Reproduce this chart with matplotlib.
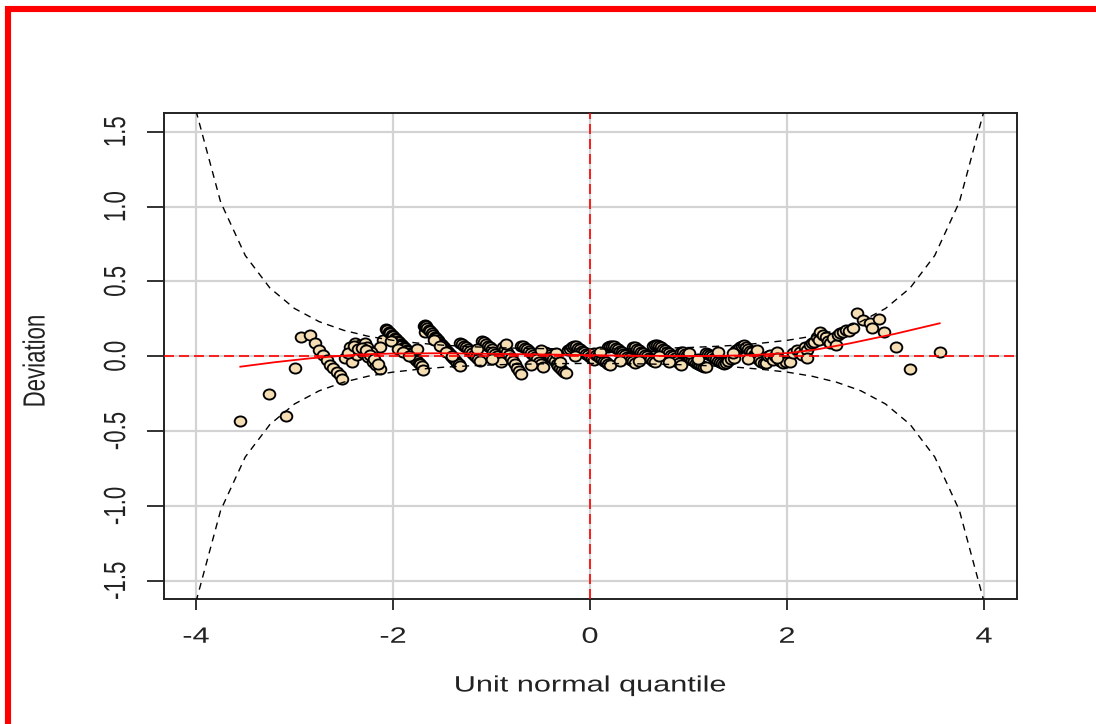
import numpy as np
import matplotlib
matplotlib.use("Agg")
import matplotlib.pyplot as plt
from matplotlib.patches import Rectangle
from matplotlib.patheffects import AbstractPathEffect
from matplotlib.transforms import Affine2D
from matplotlib.path import Path
from matplotlib.markers import MarkerStyle

# ---------------- data ----------------
band_z = [-4.0, -3.75, -3.5, -3.25, -3.0, -2.75, -2.5, -2.25, -2.0, -1.75, -1.5, -1.25, -1.0,
          -0.75, -0.5, -0.25, 0.0, 0.25, 0.5, 0.75, 1.0, 1.25, 1.5, 1.75, 2.0, 2.25, 2.5,
          2.75, 3.0, 3.25, 3.5, 3.75, 4.0]
band_hi = [1.64, 1.03, 0.673, 0.456, 0.319, 0.231, 0.173, 0.133, 0.106, 0.088, 0.074, 0.065, 0.058,
           0.054, 0.051, 0.049, 0.048, 0.049, 0.051, 0.054, 0.058, 0.065, 0.074, 0.088, 0.106, 0.133,
           0.173, 0.231, 0.319, 0.456, 0.673, 1.03, 1.64]
band_lo = [-v for v in band_hi]

fit_x = [-3.55, -3.2, -2.84, -2.34, -2.0, -1.5, -1.0, -0.5, 0.0, 0.5, 1.12, 1.6, 2.03, 2.3, 2.64, 3.1, 3.55]
fit_y = [-0.07, -0.04, -0.014, 0.012, 0.018, 0.02, 0.016, 0.012, 0.007, 0.003, 0.001, 0.006, 0.022, 0.045, 0.086, 0.15, 0.22]

pts_x = [
    # left tail
    -3.55, -3.26, -3.09, -2.99,
    -2.93, -2.84, -2.79, -2.75, -2.71, -2.67, -2.64, -2.61, -2.57, -2.54, -2.52,
    # cluster near -2.3
    -2.49, -2.44, -2.39, -2.34, -2.28, -2.42, -2.37, -2.30, -2.25, -2.20, -2.17, -2.13, -2.10, -2.13,
    -2.35, -2.32, -2.26, -2.22, -2.46, -2.40, -2.36, -2.31, -2.27, -2.23, -2.19, -2.15,
    # dark streak from -2.07
    -2.07, -2.06, -2.04, -2.03, -2.01, -2.00, -1.98, -1.97, -1.95, -1.94, -1.92, -1.91, -1.89, -1.88,
    -1.86, -1.85, -1.83, -1.82, -1.80, -1.79, -1.77, -1.76, -1.74, -1.73, -1.71, -1.70,
    -1.68, -1.76, -2.02, -1.95, -1.90, -1.84,
    # dark streak from -1.69
    -1.69, -1.68, -1.66, -1.65, -1.63, -1.62, -1.60, -1.59, -1.57, -1.56, -1.54, -1.53, -1.51, -1.50,
    -1.48, -1.47, -1.45, -1.44, -1.42, -1.41, -1.39, -1.38, -1.36, -1.35, -1.33, -1.32,
    -1.58, -1.52, -1.46, -1.40,
    # centre streaks
    -1.32, -1.30, -1.28, -1.26, -1.24, -1.22, -1.20, -1.18, -1.16, -1.14, -1.12,
    -1.10, -1.08, -1.06, -1.04, -1.02, -1.00, -0.98, -0.96, -0.94, -0.92, -0.90,
    -0.88, -0.86, -0.84, -0.82, -0.80, -0.78, -0.76, -0.74, -0.72, -0.70,
    -0.70, -0.68, -0.66, -0.64, -0.62, -0.60, -0.58, -0.56, -0.54, -0.52, -0.50, -0.48,
    -0.46, -0.44, -0.42, -0.40, -0.38, -0.36, -0.34, -0.32, -0.30, -0.28, -0.26, -0.24,
    -0.22, -0.20, -0.18, -0.16, -0.14, -0.12, -0.10, -0.08, -0.06, -0.04, -0.02, 0.00, 0.02, 0.04,
    0.04, 0.06, 0.08, 0.10, 0.12, 0.14, 0.16, 0.18, 0.20,
    0.18, 0.20, 0.22, 0.24, 0.26, 0.28, 0.30, 0.32, 0.34, 0.36, 0.38, 0.40, 0.42, 0.44, 0.46,
    0.44, 0.46, 0.48, 0.50, 0.52, 0.54, 0.56, 0.58, 0.60, 0.62, 0.64, 0.66,
    0.64, 0.66, 0.68, 0.70, 0.72, 0.74, 0.76, 0.78, 0.80, 0.82, 0.84, 0.86, 0.88, 0.90, 0.92,
    0.92, 0.94, 0.96, 0.98, 1.00, 1.02, 1.04, 1.06, 1.08, 1.10, 1.12, 1.14, 1.16, 1.18,
    1.18, 1.20, 1.22, 1.24, 1.26, 1.28, 1.30, 1.32, 1.34, 1.36, 1.38, 1.40, 1.43, 1.46,
    1.48, 1.50, 1.52, 1.54, 1.56, 1.58, 1.60, 1.62, 1.64, 1.66, 1.68, 1.70, 1.72, 1.74, 1.77, 1.79,
    1.81, 1.83, 1.86, 1.88, 1.90, 1.93, 1.96, 1.99, 2.03, 2.06, 2.10,
    # extra overlapping centre points
    -1.15, -1.00, -0.85, -0.60, -0.50, -0.35, -0.30, -0.15, 0.10, 0.30, 0.50, 0.70, 0.80, 1.00,
    1.10, 1.30, 1.45, 1.60, 1.70, 1.90,
    # right rising part
    2.13, 2.15, 2.18, 2.20, 2.20, 2.23, 2.25, 2.27, 2.30, 2.32, 2.34, 2.37, 2.40, 2.42, 2.44, 2.47,
    2.50, 2.52, 2.54, 2.57, 2.60, 2.63, 2.67,
    2.71, 2.77, 2.84, 2.86, 2.93, 2.98, 3.11, 3.25, 3.55,
]
pts_y = [
    -0.43, -0.255, -0.40, -0.077,
    0.130, 0.141, 0.086, 0.041, 0.008, -0.025, -0.059, -0.081, -0.103, -0.126, -0.155,
    -0.014, 0.063, 0.086, 0.075, 0.086, -0.037, 0.008, 0.019, -0.003, -0.037, -0.059, -0.085, 0.108, 0.063,
    0.05, 0.04, 0.06, 0.03, 0.02, 0.07, 0.045, 0.055, 0.04, 0.01, -0.02, -0.05,
    0.185, 0.178, 0.165, 0.158, 0.145, 0.138, 0.124, 0.117, 0.103, 0.096, 0.082, 0.075, 0.061, 0.054,
    0.040, 0.033, 0.019, 0.012, -0.003, -0.010, -0.024, -0.031, -0.045, -0.052, -0.066, -0.095,
    0.16, 0.05, 0.10, 0.05, 0.03, 0.0,
    0.20, 0.21, 0.205, 0.19, 0.178, 0.168, 0.155, 0.145, 0.131, 0.121, 0.108, 0.098, 0.084, 0.074,
    0.061, 0.051, 0.037, 0.027, 0.014, 0.004, -0.010, -0.020, -0.033, -0.043, -0.055, -0.062,
    0.11, 0.07, 0.03, 0.0,
    0.09, 0.08, 0.07, 0.06, 0.045, 0.035, 0.02, 0.01, -0.005, -0.02, -0.035,
    0.10, 0.095, 0.085, 0.07, 0.06, 0.045, 0.03, 0.015, 0.0, -0.02, -0.04,
    0.06, 0.045, 0.03, 0.01, -0.01, -0.03, -0.055, -0.08, -0.10, -0.12,
    0.07, 0.065, 0.055, 0.045, 0.035, 0.02, 0.01, -0.005, -0.02, -0.04, -0.055, -0.07,
    0.03, 0.02, 0.01, -0.005, -0.02, -0.035, -0.05, -0.065, -0.08, -0.095, -0.105, -0.11,
    0.04, 0.05, 0.06, 0.07, 0.065, 0.055, 0.045, 0.035, 0.025, 0.015, 0.005, -0.005, -0.015, -0.025,
    0.02, 0.01, 0.0, -0.01, -0.02, -0.03, -0.04, -0.05, -0.06,
    0.06, 0.07, 0.07, 0.065, 0.055, 0.045, 0.035, 0.025, 0.015, 0.005, -0.005, -0.015, -0.025, -0.035, -0.045,
    0.06, 0.06, 0.05, 0.04, 0.03, 0.02, 0.01, 0.0, -0.01, -0.02, -0.03, -0.04,
    0.07, 0.075, 0.075, 0.07, 0.06, 0.05, 0.04, 0.03, 0.02, 0.01, 0.0, -0.015, -0.03, -0.045, -0.06,
    0.03, 0.025, 0.015, 0.005, -0.005, -0.015, -0.025, -0.035, -0.045, -0.05, -0.06, -0.065, -0.07, -0.07,
    0.02, 0.015, 0.008, 0.0, -0.01, -0.02, -0.03, -0.037, -0.045, -0.05, -0.045, -0.03, -0.02, -0.014,
    0.04, 0.05, 0.06, 0.07, 0.075, 0.06, 0.05, 0.035, 0.025, 0.01, 0.0, -0.015, -0.025, -0.04, -0.045, -0.047,
    0.0, 0.01, -0.025, 0.0, 0.03, -0.03, -0.047, -0.04, -0.037, 0.019, 0.041,
    0.05, -0.02, 0.08, -0.06, 0.04, 0.02, -0.04, 0.0, 0.03, -0.03, -0.03, 0.0, -0.04, 0.02,
    -0.02, 0.03, 0.02, -0.02, 0.04, -0.01,
    0.03, 0.008, 0.06, 0.041, -0.014, 0.075, 0.09, 0.097, 0.13, 0.11, 0.164, 0.14, 0.13, 0.10, 0.086, 0.12,
    0.075, 0.14, 0.153, 0.16, 0.175, 0.17, 0.186,
    0.287, 0.242, 0.22, 0.186, 0.246, 0.164, 0.063, -0.086, 0.03,
]

x_ticks = [-4, -2, 0, 2, 4]
x_tick_labels = ["-4", "-2", "0", "2", "4"]
y_ticks = [-1.5, -1.0, -0.5, 0.0, 0.5, 1.0, 1.5]
y_tick_labels = ["-1.5", "-1.0", "-0.5", "0.0", "0.5", "1.0", "1.5"]


# ---------- horizontal stretch of text (the reference image is wide-stretched) ----------
class HStretch(AbstractPathEffect):
    def __init__(self, sx):
        super().__init__()
        self.sx = sx

    def draw_path(self, renderer, gc, tpath, affine, rgbFace=None):
        ext = tpath.get_extents(affine)
        cx = 0.5 * (ext.x0 + ext.x1)
        aff = affine + Affine2D().translate(-cx, 0).scale(self.sx, 1.0).translate(cx, 0)
        renderer.draw_path(gc, tpath, aff, rgbFace)


SX = 1.38
stretch = [HStretch(SX)]

plt.rcParams['font.family'] = ['Liberation Sans', 'DejaVu Sans']

W, H = 1096, 724
fig = plt.figure(figsize=(W / 100, H / 100), dpi=100)
ax = fig.add_axes([164 / W, 1 - 599 / H, (1017 - 164) / W, (599 - 113) / H])

ax.set_xlim(-4.325, 4.335)
ax.set_ylim(-1.622, 1.625)

# grid
for xv in x_ticks:
    ax.axvline(xv, color="#d3d3d3", lw=1.6, zorder=0)
for yv in y_ticks:
    ax.axhline(yv, color="#d3d3d3", lw=1.6, zorder=0)

# points
ell = Path.unit_circle().transformed(Affine2D().scale(1.15, 1.0))
mk = MarkerStyle(ell)
ax.plot(pts_x, pts_y, linestyle="none", marker=mk, markersize=8.4,
        markerfacecolor="#f5deb3", markeredgecolor="black", markeredgewidth=1.35, zorder=2)

# confidence bands
ax.plot(band_z, band_hi, color="black", lw=1.0, dashes=(5, 4), zorder=3)
ax.plot(band_z, band_lo, color="black", lw=1.0, dashes=(5, 4), zorder=3)

# reference lines
ax.axhline(0, color="red", lw=1.2, dashes=(6, 3), zorder=4)
ax.axvline(0, color="red", lw=1.2, dashes=(6, 3), zorder=4)

# fitted curve
ax.plot(fit_x, fit_y, color="red", lw=1.3, zorder=5)

# axes style
for s in ax.spines.values():
    s.set_linewidth(1.4)
    s.set_color("#222222")

ax.set_xticks(x_ticks)
ax.set_xticklabels(x_tick_labels, fontsize=16)
ax.set_yticks(y_ticks)
ax.set_yticklabels(y_tick_labels, fontsize=16, rotation=90, va="center")
ax.tick_params(axis="x", length=8, width=1.3, pad=12, colors="#222222", labelcolor="#222222")
ax.tick_params(axis="y", length=12.5, width=1.3, pad=14, colors="#222222", labelcolor="#222222")
for t in ax.get_xticklabels() + ax.get_yticklabels():
    t.set_path_effects(stretch)

ax.set_xlabel("Unit normal quantile", fontsize=16, color="#222222")
ax.xaxis.set_label_coords(0.5, -0.179)
ax.xaxis.label.set_verticalalignment("center")
ax.xaxis.label.set_path_effects(stretch)

ax.set_ylabel("Deviation", fontsize=16, color="#222222")
ax.yaxis.set_label_coords(-0.150, 0.49)
ax.yaxis.label.set_verticalalignment("center")
ax.yaxis.label.set_path_effects(stretch)

# red outer frame
fig.add_artist(Rectangle((8 / W, -0.05), (1098 - 8) / W, 1 - 9 / H + 0.05,
                         transform=fig.transFigure, fill=False, edgecolor="red",
                         linewidth=4.4, clip_on=False))

fig.savefig("out.png", dpi=100)
